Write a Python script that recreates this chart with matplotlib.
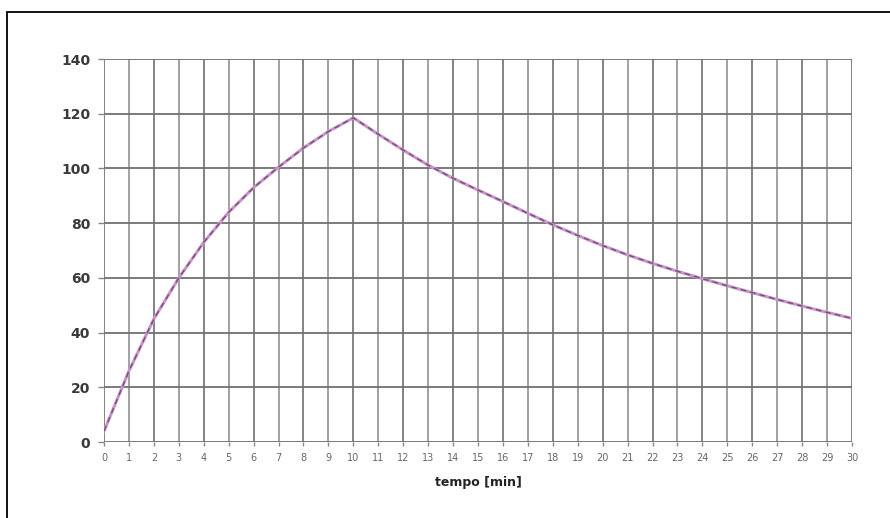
import matplotlib
matplotlib.use("Agg")
import matplotlib.pyplot as plt
from matplotlib.patches import Rectangle

# time axis [min] and curve values
tempo = list(range(0, 31))
valori = [4, 26, 45, 60, 73, 84, 93, 100.5, 107.5, 113.5, 118.5,
          112.5, 106.7, 101.2, 96.4, 92.1, 87.9, 83.6, 79.4, 75.5, 71.8,
          68.4, 65.3, 62.4, 59.7, 57.1, 54.6, 52.1, 49.7, 47.4, 45.2]

x_ticks = list(range(0, 31))
y_ticks = [0, 20, 40, 60, 80, 100, 120, 140]
x_label = "tempo [min]"

fig = plt.figure(figsize=(8.9, 5.18), dpi=100)
ax = fig.add_axes([0.1169, 0.1467, 0.8404, 0.7394])

# outer black frame (runs off the right and bottom edge in the original)
fig.patches.append(Rectangle((7 / 890, -0.1), 1.2, 1 - 12 / 518 + 0.1,
                             transform=fig.transFigure, fill=False,
                             edgecolor="black", linewidth=1.3))

ax.set_xlim(0, 30)
ax.set_ylim(0, 140)
ax.set_xticks(x_ticks)
ax.set_yticks(y_ticks)

for t in x_ticks:
    ax.axvline(t, color="#7a7a7a" if t % 2 == 0 else "#9a9a9a", lw=1.3, zorder=1)
for v in y_ticks:
    ax.axhline(v, color="#6f6f6f", lw=1.3, zorder=1)

ax.plot(tempo, valori, color="#c994c9", lw=2.2, zorder=3, solid_joinstyle="round")
ax.plot(tempo, valori, color="#5a3a5a", lw=1.0, ls=(0, (4, 3)), zorder=4, alpha=0.75)

for s in ax.spines.values():
    s.set_visible(False)

ax.tick_params(axis="y", length=4, width=1, color="#888888", pad=6,
               labelsize=10, labelcolor="#3a3a3a")
ax.tick_params(axis="x", length=3, width=1, color="#888888", pad=5,
               labelsize=7, labelcolor="#666666")
for lbl in ax.get_yticklabels():
    lbl.set_fontweight("bold")

ax.set_xlabel(x_label, fontsize=9, fontweight="bold", color="#222222", labelpad=9)

fig.savefig("out.png", dpi=100, facecolor="white")
